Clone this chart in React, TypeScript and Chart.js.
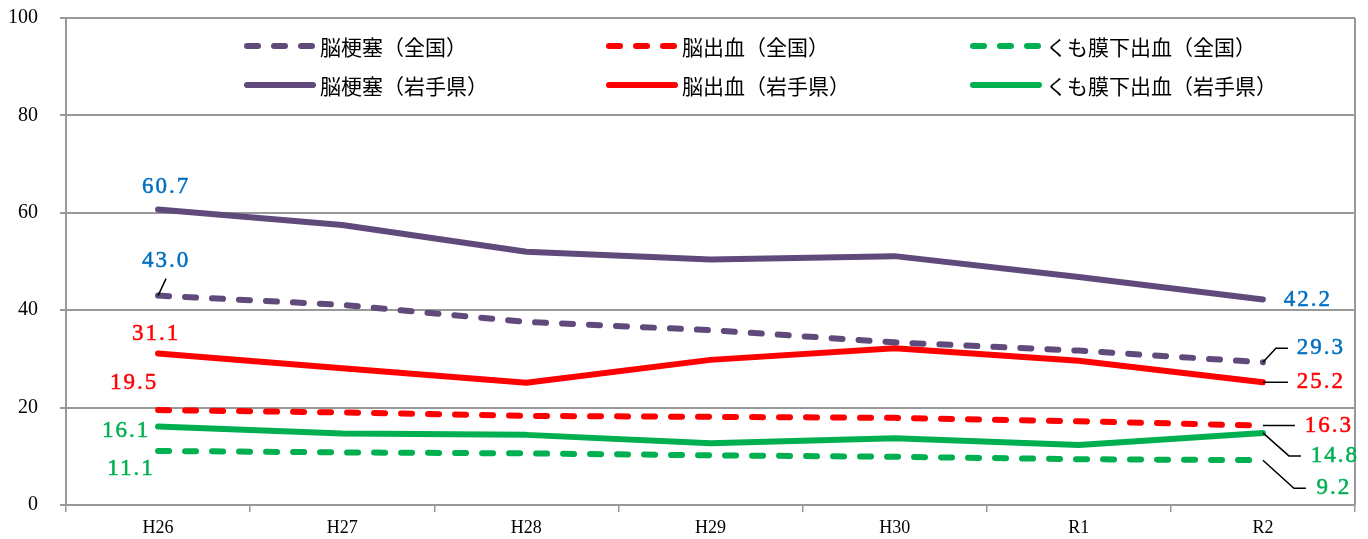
import React, { useEffect, useRef } from 'react';
import { Chart, registerables } from 'chart.js';

Chart.register(...registerables);

const categories = ['H26', 'H27', 'H28', 'H29', 'H30', 'R1', 'R2'];
const infarctionNational = [43.0, 41.1, 37.6, 35.9, 33.4, 31.7, 29.3];
const hemorrhageNational = [19.5, 19.0, 18.3, 18.1, 17.9, 17.2, 16.3];
const subarachnoidNational = [11.1, 10.8, 10.6, 10.2, 9.9, 9.4, 9.2];
const infarctionIwate = [60.7, 57.5, 52.0, 50.4, 51.1, 46.8, 42.2];
const hemorrhageIwate = [31.1, 28.1, 25.1, 29.8, 32.2, 29.6, 25.2];
const subarachnoidIwate = [16.1, 14.7, 14.4, 12.7, 13.7, 12.3, 14.8];
const seriesNames = [
  '脳梗塞（全国）',
  '脳出血（全国）',
  'くも膜下出血（全国）',
  '脳梗塞（岩手県）',
  '脳出血（岩手県）',
  'くも膜下出血（岩手県）',
];
const yMin = 0;
const yMax = 100;
const yStep = 20;

const PURPLE = '#604A7B';
const RED = '#FF0000';
const GREEN = '#00B050';
const BLUE = '#0070C0';

const seriesData = [
  infarctionNational,
  hemorrhageNational,
  subarachnoidNational,
  infarctionIwate,
  hemorrhageIwate,
  subarachnoidIwate,
];
const lineColors = [PURPLE, RED, GREEN, PURPLE, RED, GREEN];
const labelColors = [BLUE, RED, GREEN, BLUE, RED, GREEN];
const dashed = [true, true, true, false, false, false];

type LabelLayout = { dx: number; dy: number; leader?: number[][] };
const firstLabelLayout: LabelLayout[] = [
  { dx: 7, dy: -35, leader: [[0, 0], [8, -17]] },
  { dx: -25, dy: -27 },
  { dx: -28, dy: 18 },
  { dx: 7, dy: -22 },
  { dx: -3, dy: -20 },
  { dx: -33, dy: 4 },
];
const lastLabelLayout: LabelLayout[] = [
  { dx: 57, dy: -14, leader: [[0, 0], [13, -14], [25, -14]] },
  { dx: 65, dy: 0, leader: [[0, 0], [32, 0]] },
  { dx: 70, dy: 28, leader: [[0, 0], [31, 28], [43, 28]] },
  { dx: 44, dy: 0 },
  { dx: 57, dy: 0, leader: [[0, 0], [25, 0]] },
  { dx: 71, dy: 23, leader: [[0, 0], [26, 23], [38, 23]] },
];

const DASH = [11, 16];

const decorPlugin = {
  id: 'decor',
  afterDatasetsDraw(chart: any) {
    const ctx = chart.ctx as CanvasRenderingContext2D;
    const area = chart.chartArea;
    ctx.save();
    // right frame border
    ctx.strokeStyle = '#999999';
    ctx.lineWidth = 2;
    ctx.beginPath();
    ctx.moveTo(area.right, area.top);
    ctx.lineTo(area.right, area.bottom);
    ctx.stroke();

    // data labels
    const drawLabel = (dsIndex: number, pointIndex: number, layout: LabelLayout) => {
      const meta = chart.getDatasetMeta(dsIndex);
      const pt = meta.data[pointIndex];
      if (!pt) return;
      const px = pt.x;
      const py = pt.y;
      if (layout.leader) {
        ctx.strokeStyle = '#000';
        ctx.lineWidth = 1.5;
        ctx.setLineDash([]);
        ctx.beginPath();
        layout.leader.forEach((p, i) => {
          if (i === 0) ctx.moveTo(px + p[0], py + p[1]);
          else ctx.lineTo(px + p[0], py + p[1]);
        });
        ctx.stroke();
      }
      const value = seriesData[dsIndex][pointIndex];
      const text = value.toFixed(1);
      ctx.fillStyle = labelColors[dsIndex];
      ctx.strokeStyle = labelColors[dsIndex];
      ctx.lineWidth = 0.5;
      ctx.font = '23px "Liberation Serif", serif';
      (ctx as any).letterSpacing = '2px';
      ctx.textAlign = 'center';
      ctx.textBaseline = 'middle';
      const tx = px + layout.dx + 1;
      const ty = py + layout.dy;
      ctx.fillText(text, tx, ty);
      ctx.strokeText(text, tx, ty);
      (ctx as any).letterSpacing = '0px';
    };
    for (let i = 0; i < seriesData.length; i++) {
      drawLabel(i, 0, firstLabelLayout[i]);
      drawLabel(i, seriesData[i].length - 1, lastLabelLayout[i]);
    }

    // legend
    const colX = [244, 606, 970];
    const rowY = [46, 85];
    for (let i = 0; i < seriesNames.length; i++) {
      const col = i % 3;
      const row = Math.floor(i / 3);
      const x = colX[col];
      const y = rowY[row];
      ctx.strokeStyle = lineColors[i];
      ctx.lineWidth = 6;
      ctx.lineCap = 'round';
      ctx.setLineDash(dashed[i] ? DASH : []);
      ctx.beginPath();
      ctx.moveTo(x + 3, y);
      ctx.lineTo(x + 69, y);
      ctx.stroke();
      ctx.setLineDash([]);
      ctx.fillStyle = '#000';
      ctx.font = '21px "Noto Sans CJK JP", sans-serif';
      ctx.textAlign = 'left';
      ctx.textBaseline = 'middle';
      ctx.fillText(seriesNames[i], x + 76, y + 1);
    }
    ctx.restore();
  },
};

export default function App() {
  const canvasRef = useRef<HTMLCanvasElement | null>(null);

  useEffect(() => {
    const canvas = canvasRef.current;
    if (!canvas) return;
    const chart = new Chart(canvas, {
      type: 'line',
      data: {
        labels: categories,
        datasets: seriesData.map((d, i) => ({
          label: seriesNames[i],
          data: d,
          borderColor: lineColors[i],
          backgroundColor: lineColors[i],
          borderWidth: 6,
          borderDash: dashed[i] ? DASH : [],
          borderCapStyle: 'round' as const,
          borderJoinStyle: 'round' as const,
          pointRadius: 0,
          tension: 0,
          fill: false,
        })),
      },
      options: {
        responsive: false,
        animation: false,
        layout: { autoPadding: false, padding: { top: 18, right: 13, left: 0, bottom: 0 } },
        plugins: {
          legend: { display: false },
          title: { display: false },
          tooltip: { enabled: false },
        },
        scales: {
          x: {
            offset: true,
            grid: {
              offset: true,
              drawOnChartArea: false,
              drawTicks: true,
              tickLength: 7,
              color: '#999999',
              lineWidth: 1.5,
            },
            border: { color: '#999999', width: 2 },
            ticks: {
              color: '#000',
              font: { family: '"Liberation Serif", serif', size: 18 },
              padding: 5,
              maxRotation: 0,
            },
            afterFit: (s: any) => {
              s.height = 34;
              s.paddingLeft = 0;
              s.paddingRight = 0;
            },
          },
          y: {
            min: yMin,
            max: yMax,
            ticks: {
              stepSize: yStep,
              color: '#000',
              font: { family: '"Liberation Serif", serif', size: 20 },
              padding: 22,
            },
            grid: {
              color: '#999999',
              lineWidth: 2,
              tickLength: 6,
              drawTicks: true,
            },
            border: { color: '#999999', width: 2 },
            afterFit: (s: any) => {
              s.width = 66;
              s.paddingTop = 0;
              s.paddingBottom = 0;
            },
          },
        },
      },
      plugins: [decorPlugin],
    });
    return () => chart.destroy();
  }, []);

  return (
    <div style={{ position: 'fixed', left: 0, top: 0, width: 1368, height: 539, background: '#fff' }}>
      <canvas ref={canvasRef} width={1368} height={539} style={{ width: 1368, height: 539, display: 'block' }} />
    </div>
  );
}
